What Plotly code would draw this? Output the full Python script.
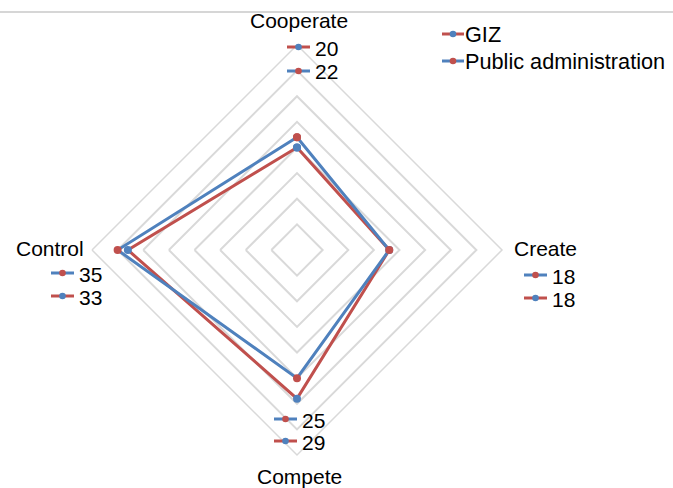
import plotly.graph_objects as go

# Chart data
categories = ["Cooperate", "Create", "Compete", "Control"]
giz = [20, 18, 29, 33]
public_admin = [22, 18, 25, 35]
series_names = ["GIZ", "Public administration"]

W, H = 673, 488
RED = "#C0504D"
BLUE = "#4F81BD"
GRID = "#D9D9D9"
FONT = dict(family="Liberation Sans, Arial, sans-serif", size=21, color="#000000")


def px(x):
    return x / W


def py(y):
    return 1 - y / H


fig = go.Figure()

# GIZ: red line, blue markers; Public administration: blue line, red markers
styles = [(giz, RED, BLUE), (public_admin, BLUE, RED)]
for name, (vals, lc, mc) in zip(series_names, styles):
    fig.add_trace(go.Scatterpolar(
        r=vals + vals[:1],
        theta=categories + categories[:1],
        mode="lines+markers",
        name=name,
        line=dict(color=lc, width=3),
        marker=dict(color=mc, size=8),
        showlegend=False,
    ))

# polar area: centre (297,250), radius 205 px
cx, cy, R = 297, 250, 205
fig.update_layout(
    width=W, height=H,
    margin=dict(l=0, r=0, t=0, b=0),
    paper_bgcolor="white",
    plot_bgcolor="white",
    polar=dict(
        domain=dict(x=[px(cx - R), px(cx + R)], y=[py(cy + R), py(cy - R)]),
        gridshape="linear",
        bgcolor="white",
        angularaxis=dict(
            rotation=90, direction="clockwise",
            showgrid=False, showticklabels=False, ticks="",
            showline=True, linecolor=GRID, linewidth=1.5,
        ),
        radialaxis=dict(
            range=[0, 40], dtick=5, showline=False, showticklabels=False,
            ticks="", gridcolor=GRID, gridwidth=1.5,
        ),
    ),
)

shapes = []
annotations = []

# thin rule at the top
shapes.append(dict(type="line", xref="paper", yref="paper",
                   x0=0, x1=1, y0=py(12), y1=py(12),
                   line=dict(color="#C8C8C8", width=1.5)))


def key(x0, y, line_color, dot_color, length=23):
    shapes.append(dict(type="line", xref="paper", yref="paper",
                       x0=px(x0), x1=px(x0 + length), y0=py(y), y1=py(y),
                       line=dict(color=line_color, width=3)))
    r = 3.3
    xm = x0 + length / 2
    shapes.append(dict(type="circle", xref="paper", yref="paper",
                       x0=px(xm - r), x1=px(xm + r), y0=py(y + r), y1=py(y - r),
                       fillcolor=dot_color, line=dict(width=0)))


def text(x, y, s, xanchor="left", size=21):
    annotations.append(dict(x=px(x), y=py(y), xref="paper", yref="paper",
                            text=s, showarrow=False, xanchor=xanchor,
                            yanchor="middle", font=dict(FONT, size=size)))


# category labels with value keys (GIZ / Public administration order per label)
cat_pos = {
    "Cooperate": dict(title=(299, 20, "center"), rows=[(287, 47), (287, 71)],
                      order=[0, 1]),
    "Create": dict(title=(512, 248, "left"), rows=[(524, 275), (524, 298)],
                   order=[1, 0]),
    "Compete": dict(title=(299, 476, "center"), rows=[(274, 419), (274, 441)],
                    order=[1, 0]),
    "Control": dict(title=(86, 248, "right"), rows=[(51, 273), (51, 296)],
                    order=[1, 0]),
}
series_vals = [giz, public_admin]
for i, cat in enumerate(categories):
    p = cat_pos[cat]
    tx, ty, ta = p["title"]
    text(tx, ty, cat, ta)
    for (kx, ky), s in zip(p["rows"], p["order"]):
        _, lc, mc = styles[s]
        key(kx, ky, lc, mc)
        text(kx + 26, ky + 1, str(series_vals[s][i]))

# legend
for (kx, ky), (name, (_, lc, mc)) in zip([(442, 34), (442, 61)],
                                         zip(series_names, styles)):
    key(kx, ky, lc, mc, length=22)
    text(kx + 21, ky, name, size=21.7)

fig.update_layout(shapes=shapes, annotations=annotations)
fig.write_html("out.html")
